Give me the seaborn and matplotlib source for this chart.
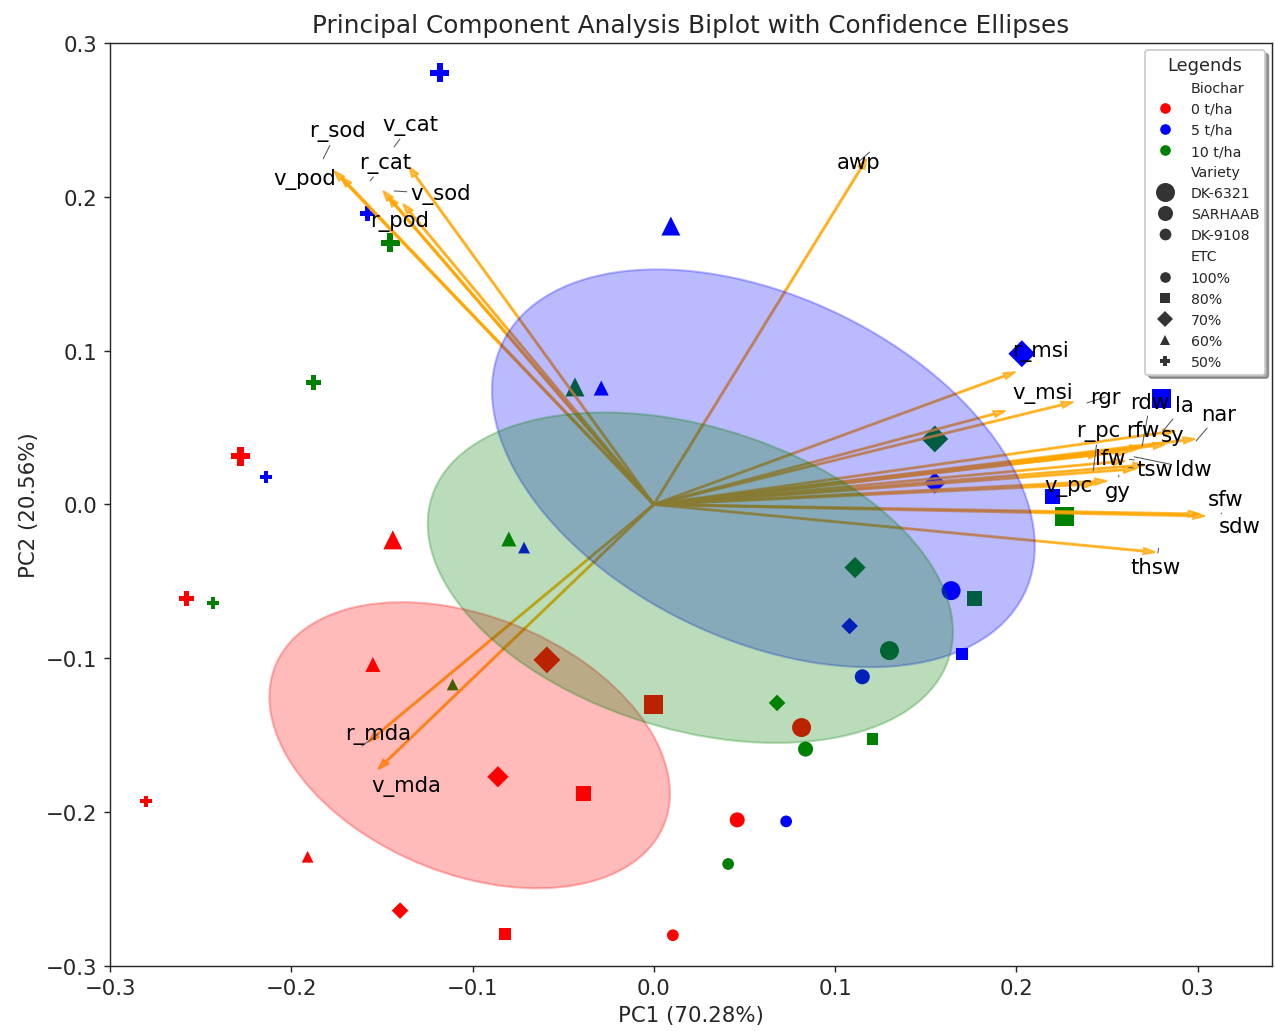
import numpy as np
import pandas as pd
import matplotlib
matplotlib.use("Agg")
import matplotlib.pyplot as plt
import matplotlib.transforms as transforms
from matplotlib.patches import Ellipse
import seaborn as sns

# ---- categories -------------------------------------------------------------
biochar_levels = ["0 t/ha", "5 t/ha", "10 t/ha"]
variety_levels = ["DK-6321", "SARHAAB", "DK-9108"]
etc_levels = ["100%", "80%", "70%", "60%", "50%"]

# ---- PC scores per biochar level ------------------------------------------
# rows: ETC 100%, 80%, 70%, 60%, 50%; within each row DK-6321, SARHAAB, DK-9108
pc1_0t = [0.0815, 0.046, 0.0105,
          0.000, -0.039, -0.082,
          -0.059, -0.086, -0.140,
          -0.144, -0.155, -0.191,
          -0.228, -0.258, -0.280]
pc2_0t = [-0.145, -0.205, -0.280,
          -0.130, -0.188, -0.279,
          -0.101, -0.177, -0.264,
          -0.023, -0.104, -0.229,
          0.0315, -0.061, -0.193]

pc1_5t = [0.164, 0.115, 0.073,
          0.280, 0.220, 0.170,
          0.203, 0.155, 0.108,
          0.0094, -0.029, -0.0716,
          -0.118, -0.158, -0.214]
pc2_5t = [-0.056, -0.112, -0.206,
          0.069, 0.0055, -0.097,
          0.098, 0.014, -0.079,
          0.181, 0.0757, -0.028,
          0.2805, 0.189, 0.018]

pc1_10t = [0.130, 0.0837, 0.041,
           0.2265, 0.177, 0.1207,
           0.155, 0.111, 0.068,
           -0.0435, -0.080, -0.111,
           -0.1455, -0.188, -0.243]
pc2_10t = [-0.095, -0.159, -0.2337,
           -0.0075, -0.0614, -0.1525,
           0.0426, -0.041, -0.129,
           0.0764, -0.0224, -0.117,
           0.170, 0.0796, -0.064]

# ---- variable loadings (arrow tips) ----------------------------------------
variables = ["awp", "v_pod", "r_sod", "r_cat", "r_pod", "v_sod", "v_cat",
             "r_mda", "v_mda", "r_msi", "v_msi", "rgr", "nar", "la", "sy",
             "rdw", "rfw", "r_pc", "lfw", "tsw", "ldw", "v_pc", "gy",
             "sfw", "sdw", "thsw"]
load_pc1 = [0.1174, -0.1763, -0.1725, -0.1493, -0.1466, -0.1383, -0.1350,
            -0.1576, -0.1520, 0.1994, 0.1940, 0.2314, 0.2986, 0.2876, 0.2820,
            0.2694, 0.2628, 0.2463, 0.2600, 0.2656, 0.2710, 0.2500, 0.2435,
            0.3014, 0.3040, 0.2766]
load_pc2 = [0.2246, 0.2168, 0.2129, 0.2038, 0.2000, 0.1954, 0.2194,
            -0.1544, -0.1720, 0.0861, 0.0608, 0.0666, 0.0426, 0.0478, 0.0390,
            0.0374, 0.0348, 0.0328, 0.0283, 0.0231, 0.0257, 0.0153, 0.0133,
            -0.0062, -0.0075, -0.0310]

# label placement for the loading names (data coordinates)
label_pos = {
    "awp": (0.1129, 0.2227), "v_pod": (-0.1928, 0.2116), "r_sod": (-0.1747, 0.2429),
    "v_cat": (-0.1344, 0.2467), "r_cat": (-0.1482, 0.2220), "v_sod": (-0.1174, 0.2019),
    "r_pod": (-0.1405, 0.1843), "r_mda": (-0.1521, -0.1492), "v_mda": (-0.1366, -0.1830),
    "r_msi": (0.2132, 0.0998), "v_msi": (0.2143, 0.0731), "rgr": (0.2490, 0.0699),
    "rdw": (0.2738, 0.0666), "la": (0.2926, 0.0647), "nar": (0.3118, 0.0588),
    "r_pc": (0.2452, 0.0478), "rfw": (0.2700, 0.0484), "sy": (0.2865, 0.0452),
    "lfw": (0.2518, 0.0302), "tsw": (0.2766, 0.0231), "ldw": (0.2975, 0.0231),
    "v_pc": (0.2287, 0.0120), "gy": (0.2562, 0.0088), "sfw": (0.3152, 0.0036),
    "sdw": (0.3234, -0.0140), "thsw": (0.2766, -0.0406),
}

# end points of the short leader lines from a shifted name back to its anchor
leader_end = {
    "r_sod": (-0.1824, 0.2247), "v_cat": (-0.1433, 0.2324), "r_cat": (-0.1565, 0.2105),
    "v_sod": (-0.1433, 0.2038), "rgr": (0.2390, 0.0660), "rdw": (0.2694, 0.0380),
    "la": (0.2810, 0.0478), "nar": (0.2992, 0.0413), "r_pc": (0.2424, 0.0218),
    "lfw": (0.2650, 0.0290), "tsw": (0.2620, 0.0240), "ldw": (0.2650, 0.0310),
    "sfw": (0.3130, -0.0060), "r_mda": (-0.1610, -0.1570),
    "awp": (0.1190, 0.2290), "thsw": (0.2785, -0.0285), "gy": (0.2565, 0.0190),
}

palette = {"0 t/ha": "red", "5 t/ha": "blue", "10 t/ha": "green"}
size_map = {"DK-6321": 115, "SARHAAB": 72, "DK-9108": 44}
marker_map = {"100%": "o", "80%": "s", "70%": "D", "60%": "^", "50%": "P"}

# ---- assemble the score table ---------------------------------------------
scores = {"0 t/ha": (pc1_0t, pc2_0t), "5 t/ha": (pc1_5t, pc2_5t), "10 t/ha": (pc1_10t, pc2_10t)}
rows = []
for b in biochar_levels:
    xs, ys = scores[b]
    k = 0
    for e in etc_levels:
        for v in variety_levels:
            rows.append({"Biochar": b, "Variety": v, "ETC": e, "PC1": xs[k], "PC2": ys[k]})
            k += 1
df = pd.DataFrame(rows)


def confidence_ellipse(x, y, ax, n_std=1.0, **kwargs):
    cov = np.cov(x, y)
    pearson = cov[0, 1] / np.sqrt(cov[0, 0] * cov[1, 1])
    rx = np.sqrt(1 + pearson)
    ry = np.sqrt(1 - pearson)
    ell = Ellipse((0, 0), width=rx * 2, height=ry * 2, **kwargs)
    sx = np.sqrt(cov[0, 0]) * n_std
    sy = np.sqrt(cov[1, 1]) * n_std
    tr = (transforms.Affine2D().rotate_deg(45).scale(sx, sy)
          .translate(np.mean(x), np.mean(y)))
    ell.set_transform(tr + ax.transData)
    return ax.add_patch(ell)


sns.set_style("ticks")
plt.rcParams["font.family"] = ["DejaVu Sans"]

fig, ax = plt.subplots(figsize=(10, 8.094), dpi=127.5)
fig.subplots_adjust(left=0.0863, right=0.9976, bottom=0.063, top=0.9574)

sns.scatterplot(data=df, x="PC1", y="PC2", hue="Biochar", size="Variety", style="ETC",
                hue_order=biochar_levels, size_order=variety_levels, style_order=etc_levels,
                palette=palette, sizes=size_map, markers=marker_map,
                linewidth=0, legend="full", ax=ax)

# loading arrows
for name, lx, ly in zip(variables, load_pc1, load_pc2):
    ax.arrow(0, 0, lx, ly, color="orange", alpha=0.72, width=0.0008,
             head_width=0.0042, head_length=0.0065, length_includes_head=True)

# confidence ellipses for each biochar level
for b in biochar_levels:
    sub = df[df["Biochar"] == b]
    confidence_ellipse(sub["PC1"].values, sub["PC2"].values, ax, n_std=1.0,
                       facecolor=palette[b], edgecolor=palette[b], alpha=0.27, lw=1.2)

# loading names, with thin leader lines where a name was shifted
for name in variables:
    tx, ty = label_pos[name]
    if name in leader_end:
        ax.annotate(name, xy=leader_end[name], xytext=(tx, ty), fontsize=12,
                    color="black", ha="center", va="center", zorder=5,
                    arrowprops=dict(arrowstyle="-", color="0.35", lw=0.6,
                                    shrinkA=0, shrinkB=0))
    else:
        ax.text(tx, ty, name, fontsize=12, color="black",
                ha="center", va="center", zorder=5)

ax.set_xlim(-0.3, 0.341)
ax.set_ylim(-0.3, 0.3)
ax.set_xticks([-0.3, -0.2, -0.1, 0.0, 0.1, 0.2, 0.3])
ax.set_yticks([-0.3, -0.2, -0.1, 0.0, 0.1, 0.2, 0.3])
ax.tick_params(labelsize=12)
ax.set_xlabel("PC1 (70.28%)", fontsize=12)
ax.set_ylabel("PC2 (20.56%)", fontsize=12)
ax.set_title("Principal Component Analysis Biplot with Confidence Ellipses", fontsize=14)

sns.move_legend(ax, "upper right", title="Legends", shadow=True, fontsize=8,
                title_fontsize=10, frameon=True, fancybox=True)

fig.savefig("out.png", dpi=127.5)
